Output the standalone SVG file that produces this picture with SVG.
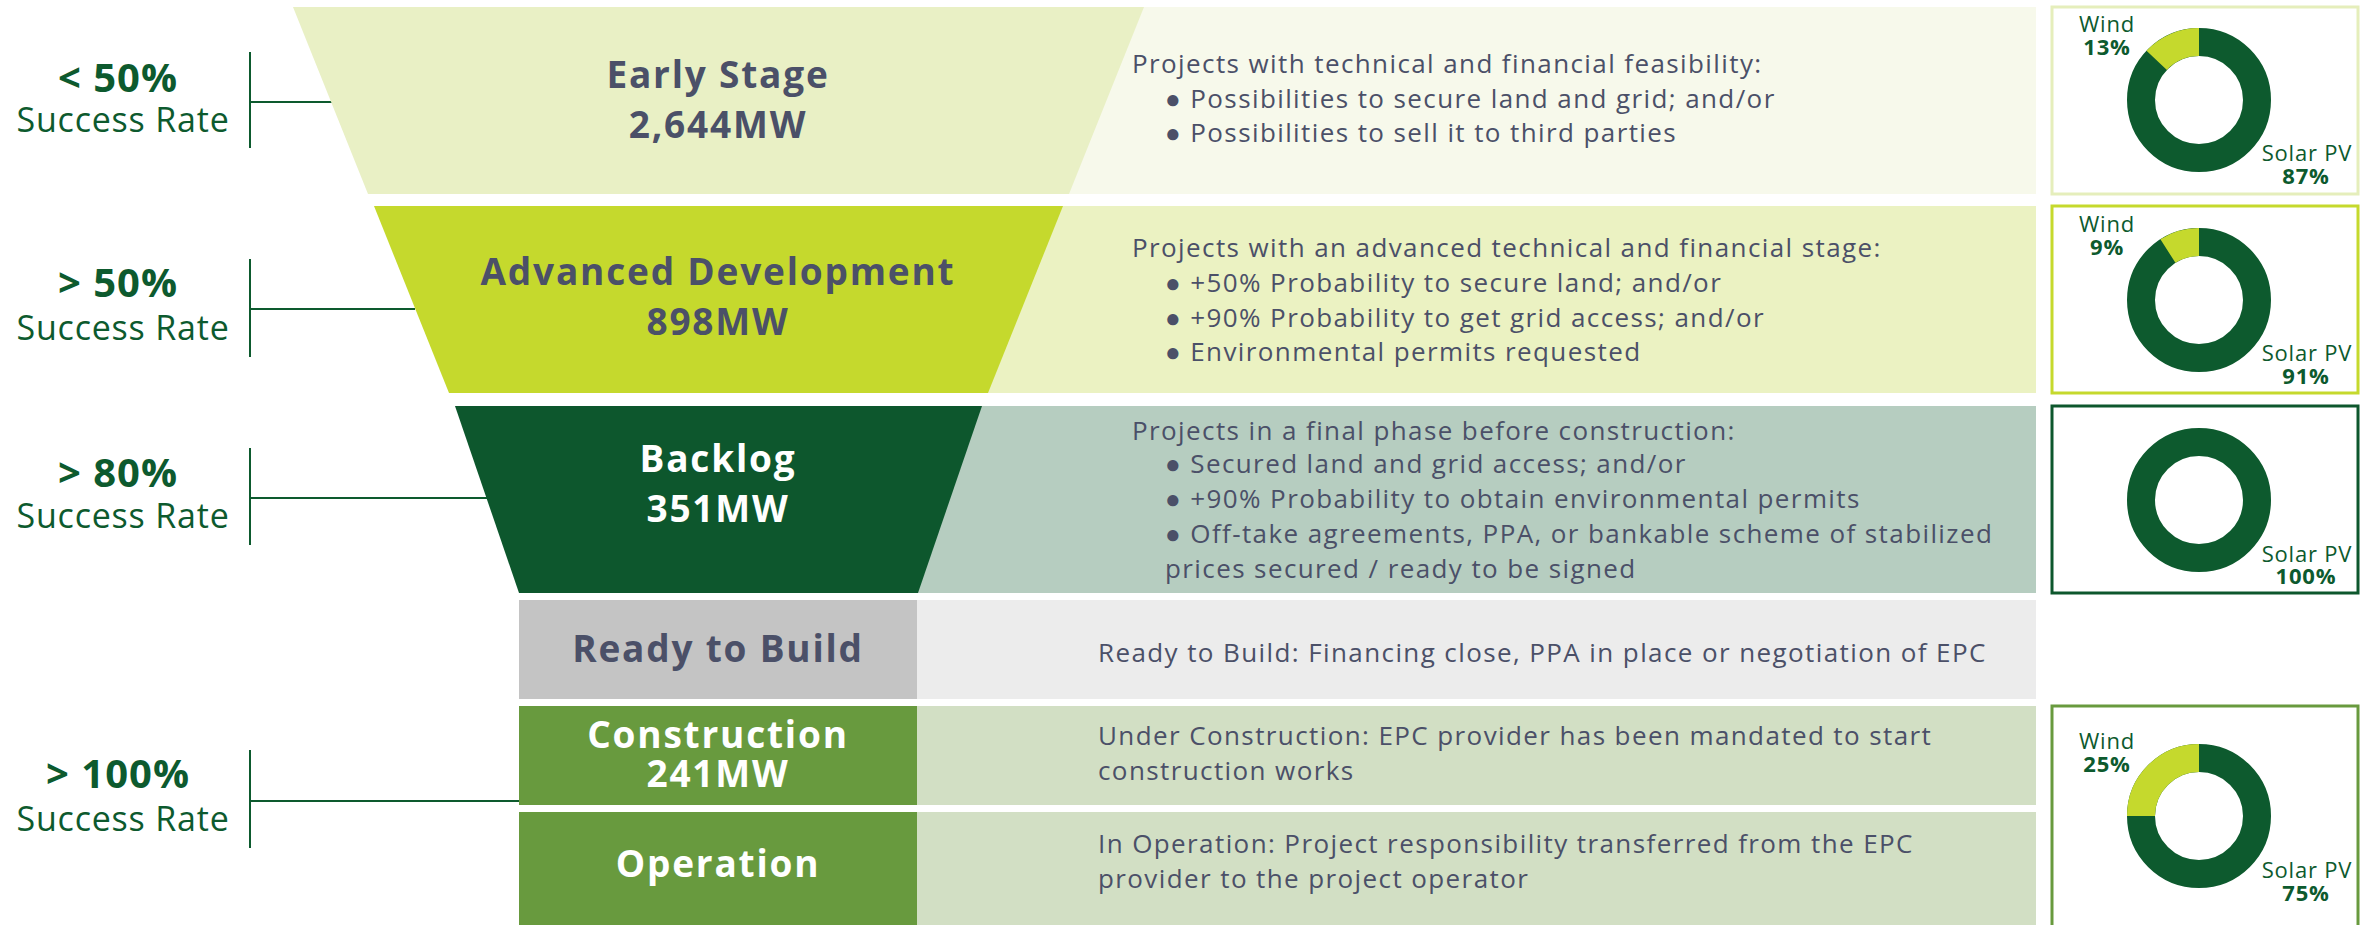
<svg xmlns="http://www.w3.org/2000/svg" width="2364" height="925" viewBox="0 0 2364 925">
<style>
.pct{font-family:"Open Sans","Liberation Sans",sans-serif;font-weight:700;font-size:40px;letter-spacing:1px;fill:#0d5a2e;text-anchor:middle}
.sr{font-family:"Open Sans","Liberation Sans",sans-serif;font-size:34px;letter-spacing:0.8px;fill:#0d5a2e;text-anchor:middle}
.ttl{font-family:"Open Sans","Liberation Sans",sans-serif;font-weight:700;font-size:37px;letter-spacing:1.8px;fill:#4b5068;text-anchor:middle}
.ttlw{font-family:"Open Sans","Liberation Sans",sans-serif;font-weight:700;font-size:37px;letter-spacing:1.8px;fill:#ffffff;text-anchor:middle}
.desc{font-family:"Open Sans","Liberation Sans",sans-serif;font-size:26px;letter-spacing:1.4px;fill:#4b5068}
.dl{font-family:"Open Sans","Liberation Sans",sans-serif;font-size:22px;letter-spacing:0.8px;fill:#0d5a2e;text-anchor:middle}
.dv{font-family:"Open Sans","Liberation Sans",sans-serif;font-weight:700;font-size:22px;letter-spacing:0.8px;fill:#0d5a2e;text-anchor:middle}
.ring{fill:none;stroke:#0d5a2e;stroke-width:28}
.wind{fill:none;stroke:#c5d92d;stroke-width:28}
.brk{fill:none;stroke:#0d5a2e;stroke-width:2}
</style>
<rect width="2364" height="925" fill="#ffffff"/>

<g id="connectors">
  <path class="brk" d="M250 52 V148 M250 102 H332"/>
  <path class="brk" d="M250 259 V357 M250 309 H415"/>
  <path class="brk" d="M250 448 V545 M250 498 H488"/>
  <path class="brk" d="M250 750 V848 M250 801 H519"/>
</g>

<g id="rate-1">
  <text class="pct" x="118" y="92">&lt; 50%</text>
  <text class="sr" x="123" y="132">Success Rate</text>
</g>
<g id="rate-2">
  <text class="pct" x="118" y="297">&gt; 50%</text>
  <text class="sr" x="123" y="340">Success Rate</text>
</g>
<g id="rate-3">
  <text class="pct" x="118" y="487">&gt; 80%</text>
  <text class="sr" x="123" y="528">Success Rate</text>
</g>
<g id="rate-4">
  <text class="pct" x="118" y="788">&gt; 100%</text>
  <text class="sr" x="123" y="831">Success Rate</text>
</g>

<g id="early-stage">
  <rect x="1060" y="7" width="976" height="187" fill="#f7f9eb"/>
  <polygon points="293,7 1144,7 1069,194 368,194" fill="#e9f0c5"/>
  <text class="ttl" x="718" y="88">Early Stage</text>
  <text class="ttl" x="718" y="138">2,644MW</text>
  <text class="desc" x="1132" y="73">Projects with technical and financial feasibility:</text>
  <text class="desc" x="1165" y="108">● Possibilities to secure land and grid; and/or</text>
  <text class="desc" x="1165" y="142">● Possibilities to sell it to third parties</text>
</g>

<g id="advanced-development">
  <rect x="980" y="206" width="1056" height="187" fill="#ebf2c2"/>
  <polygon points="374,206 1063,206 988,393 449,393" fill="#c5d92d"/>
  <text class="ttl" x="718" y="285">Advanced Development</text>
  <text class="ttl" x="718" y="335">898MW</text>
  <text class="desc" x="1132" y="257">Projects with an advanced technical and financial stage:</text>
  <text class="desc" x="1165" y="292">● +50% Probability to secure land; and/or</text>
  <text class="desc" x="1165" y="327">● +90% Probability to get grid access; and/or</text>
  <text class="desc" x="1165" y="361">● Environmental permits requested</text>
</g>

<g id="backlog">
  <rect x="910" y="406" width="1126" height="187" fill="#b6cdc0"/>
  <polygon points="455,406 982,406 918,593 519,593" fill="#0d572d"/>
  <text class="ttlw" x="718" y="472">Backlog</text>
  <text class="ttlw" x="718" y="522">351MW</text>
  <text class="desc" x="1132" y="440">Projects in a final phase before construction:</text>
  <text class="desc" x="1165" y="473">● Secured land and grid access; and/or</text>
  <text class="desc" x="1165" y="508">● +90% Probability to obtain environmental permits</text>
  <text class="desc" x="1165" y="543">● Off-take agreements, PPA, or bankable scheme of stabilized</text>
  <text class="desc" x="1165" y="578">prices secured / ready to be signed</text>
</g>

<g id="ready-to-build">
  <rect x="917" y="600" width="1119" height="99" fill="#ececec"/>
  <rect x="519" y="600" width="398" height="99" fill="#c4c4c4"/>
  <text class="ttl" x="718" y="662">Ready to Build</text>
  <text class="desc" x="1098" y="662">Ready to Build: Financing close, PPA in place or negotiation of EPC</text>
</g>

<g id="construction">
  <rect x="917" y="706" width="1119" height="99" fill="#d2dfc4"/>
  <rect x="519" y="706" width="398" height="99" fill="#689a3e"/>
  <text class="ttlw" x="718" y="748">Construction</text>
  <text class="ttlw" x="718" y="787">241MW</text>
  <text class="desc" x="1098" y="745">Under Construction: EPC provider has been mandated to start</text>
  <text class="desc" x="1098" y="780">construction works</text>
</g>

<g id="operation">
  <rect x="917" y="812" width="1119" height="113" fill="#d2dfc4"/>
  <rect x="519" y="812" width="398" height="113" fill="#689a3e"/>
  <text class="ttlw" x="718" y="877">Operation</text>
  <text class="desc" x="1098" y="853">In Operation: Project responsibility transferred from the EPC</text>
  <text class="desc" x="1098" y="888">provider to the project operator</text>
</g>

<g id="mix-early">
  <rect x="2052" y="7" width="306" height="187" fill="#ffffff" stroke="#e5eebb" stroke-width="3"/>
  <circle class="ring" cx="2199" cy="100" r="58"/>
  <path class="wind" d="M2156.72 60.30 A58 58 0 0 1 2199 42"/>
  <text class="dl" x="2107" y="32">Wind</text>
  <text class="dv" x="2107" y="55">13%</text>
  <text class="dl" x="2307" y="161">Solar PV</text>
  <text class="dv" x="2306" y="184">87%</text>
</g>

<g id="mix-advanced">
  <rect x="2052" y="206" width="306" height="187" fill="#ffffff" stroke="#c5d92d" stroke-width="3"/>
  <circle class="ring" cx="2199" cy="300" r="58"/>
  <path class="wind" d="M2167.92 251.03 A58 58 0 0 1 2199 242"/>
  <text class="dl" x="2107" y="232">Wind</text>
  <text class="dv" x="2107" y="255">9%</text>
  <text class="dl" x="2307" y="361">Solar PV</text>
  <text class="dv" x="2306" y="384">91%</text>
</g>

<g id="mix-backlog">
  <rect x="2052" y="406" width="306" height="187" fill="#ffffff" stroke="#0d572d" stroke-width="3"/>
  <circle class="ring" cx="2199" cy="500" r="58"/>
  <text class="dl" x="2307" y="562">Solar PV</text>
  <text class="dv" x="2306" y="584">100%</text>
</g>

<g id="mix-operating">
  <rect x="2052" y="706" width="306" height="230" fill="#ffffff" stroke="#689a3e" stroke-width="3"/>
  <circle class="ring" cx="2199" cy="816" r="58"/>
  <path class="wind" d="M2141 816 A58 58 0 0 1 2199 758"/>
  <text class="dl" x="2107" y="749">Wind</text>
  <text class="dv" x="2107" y="772">25%</text>
  <text class="dl" x="2307" y="878">Solar PV</text>
  <text class="dv" x="2306" y="901">75%</text>
</g>
</svg>
